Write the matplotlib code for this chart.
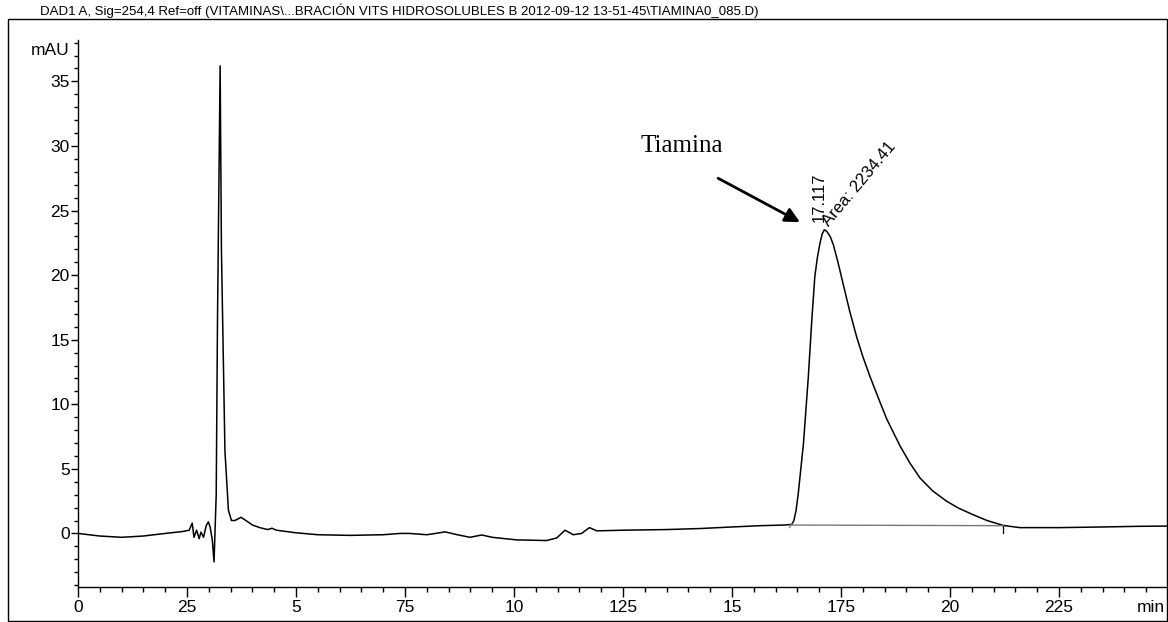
import matplotlib
matplotlib.use("Agg")
import matplotlib.pyplot as plt
from matplotlib import font_manager
from matplotlib.ticker import FixedLocator, MultipleLocator
from matplotlib.patches import Rectangle

# retention time (min) and detector signal (mAU) of the DAD trace
time_min = [0.0, 0.5, 1.0, 1.5, 2.0, 2.4, 2.55, 2.62, 2.66, 2.72, 2.78, 2.82,
            2.88, 2.94, 2.99, 3.03, 3.08, 3.12, 3.17, 3.2, 3.26, 3.29, 3.37,
            3.45, 3.52, 3.6, 3.74, 3.85, 4.0, 4.17, 4.35, 4.45, 4.55, 5.0,
            5.5, 6.24, 7.0, 7.39, 7.6, 8.0, 8.2, 8.42, 8.7, 8.99, 9.26, 9.5,
            10.06, 10.75, 10.98, 11.17, 11.36, 11.55, 11.73, 11.9, 12.5,
            13.5, 14.27, 15.0, 15.64, 16.2, 16.37, 16.42, 16.47, 16.52,
            16.64, 16.75, 16.83, 16.9, 16.96, 17.02, 17.07, 17.117, 17.17,
            17.25, 17.32, 17.43, 17.55, 17.7, 17.86, 18.0, 18.17, 18.39,
            18.55, 18.85, 19.08, 19.31, 19.6, 19.92, 20.2, 20.53, 20.85,
            21.22, 21.6, 22.5, 23.5, 24.3, 25.0]
signal_mau = [0.0, -0.2, -0.3, -0.2, 0.0, 0.15, 0.25, 0.8, -0.3, 0.25, -0.4,
              0.1, -0.3, 0.6, 0.9, 0.5, -0.5, -2.2, 3.0, 16.8, 36.2, 21.9,
              6.4, 1.8, 1.0, 1.0, 1.25, 1.0, 0.65, 0.45, 0.3, 0.4, 0.25,
              0.05, -0.1, -0.15, -0.1, 0.0, 0.0, -0.1, 0.0, 0.12, -0.1, -0.3,
              -0.12, -0.3, -0.5, -0.55, -0.35, 0.25, -0.1, 0.0, 0.45, 0.2,
              0.25, 0.3, 0.38, 0.5, 0.6, 0.65, 0.7, 1.0, 1.8, 3.1,
              7.0, 12.1, 16.5, 19.9, 21.4, 22.5, 23.2, 23.5, 23.4,
              23.0, 22.4, 21.0, 19.3, 17.2, 15.2, 13.7, 12.1, 10.2,
              8.85, 6.8, 5.45, 4.3, 3.3, 2.5, 1.95, 1.45, 1.0,
              0.62, 0.45, 0.45, 0.5, 0.55, 0.57]

# integration baseline of the thiamine peak
peak_start = (16.37, 0.65)
peak_end = (21.22, 0.6)
peak_rt = 17.117
peak_area = 2234.41
peak_top = 23.5

x_ticks = [0, 2.5, 5, 7.5, 10, 12.5, 15, 17.5, 20, 22.5]
x_tick_labels = ["0", "25", "5", "75", "10", "125", "15", "175", "20", "225"]
y_ticks = [0, 5, 10, 15, 20, 25, 30, 35]
y_tick_labels = ["0", "5", "10", "15", "20", "25", "30", "35"]

title = ("DAD1 A, Sig=254,4 Ref=off (VITAMINAS\\...BRACIÓN VITS HIDROSOLUBLES B "
         "2012-09-12 13-51-45\\TIAMINA0_085.D)")

installed = {f.name for f in font_manager.fontManager.ttflist}
narrow = "Liberation Sans Narrow" if "Liberation Sans Narrow" in installed else "Liberation Sans"
plt.rcParams["font.family"] = [narrow, "DejaVu Sans"]

W, H = 1168, 622
fig = plt.figure(figsize=(W / 100, H / 100), dpi=100)
ax = fig.add_axes([78 / W, 1 - 587.3 / H, 1 - 78 / W, (587.3 - 40) / H])

# outer frame around the report page
fig.patches.append(Rectangle((8 / W, 1 / H), 1159 / W, 602 / H, transform=fig.transFigure,
                             fill=False, edgecolor="black", linewidth=1.0))

ax.plot(time_min, signal_mau, color="black", linewidth=1.1)
ax.plot([peak_start[0], peak_end[0]], [peak_start[1], peak_end[1]],
        color="#777777", linewidth=1.0)
ax.plot([peak_end[0], peak_end[0]], [peak_end[1], 0.0], color="black", linewidth=0.9)
ax.plot([peak_start[0] - 0.05, peak_start[0]], [0.45, 0.75], color="#777777", linewidth=0.9)

ax.set_xlim(0, 25)
ax.set_ylim(-4.17, 38.2)
for side in ("top", "right"):
    ax.spines[side].set_visible(False)
for side in ("left", "bottom"):
    ax.spines[side].set_linewidth(1.0)

ax.xaxis.set_major_locator(FixedLocator(x_ticks))
ax.set_xticklabels(x_tick_labels)
ax.xaxis.set_minor_locator(MultipleLocator(0.5))
ax.yaxis.set_major_locator(FixedLocator(y_ticks))
ax.set_yticklabels(y_tick_labels)
ax.yaxis.set_minor_locator(MultipleLocator(1))

ax.tick_params(axis="x", which="major", length=7, width=1, labelsize=12.5, pad=2)
ax.tick_params(axis="x", which="minor", length=3.8, width=1)
ax.tick_params(axis="y", which="major", length=5, width=1, labelsize=12.5, pad=1)
ax.tick_params(axis="y", which="minor", length=2.7, width=1)

# time unit at the right end of the x axis
fig.text(1165 / W, 1 - 607 / H, "min", ha="right", va="center", fontsize=12.5)
ax.text(-0.2, 37.4, "mAU", ha="right", va="center", fontsize=12.5)

fig.text(40 / W, 1 - 11 / H, title, ha="left", va="center", fontsize=9.5)

ax.text(peak_rt - 0.12, peak_top + 0.6, f"{peak_rt:.3f}", rotation=90,
        ha="center", va="bottom", fontsize=12)
ax.text(peak_rt + 0.17, peak_top + 0.1, f"Area: {peak_area:.2f}", rotation=50,
        rotation_mode="anchor", ha="left", va="bottom", fontsize=12)

ax.text(13.85, 30.0, "Tiamina", family=["Liberation Serif", "DejaVu Serif"],
        fontsize=18, ha="center", va="center")
ax.annotate("", xy=(16.56, 24.1), xytext=(14.68, 27.5),
            arrowprops=dict(arrowstyle="-|>", color="black", lw=2,
                            mutation_scale=22, shrinkA=0, shrinkB=0))

fig.savefig("out.png", dpi=100)
